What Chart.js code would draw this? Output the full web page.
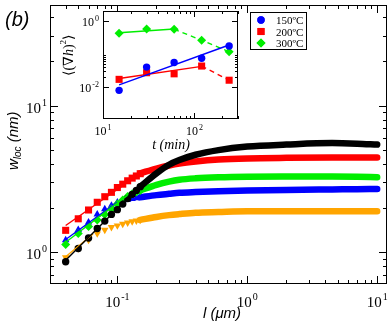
<!DOCTYPE html>
<html>
<head>
<meta charset="utf-8">
<script src="https://cdn.jsdelivr.net/npm/chart.js@4.4.0/dist/chart.umd.min.js"></script>
<style>
  html, body { margin: 0; padding: 0; background: #fff; }
  #wrap { position: relative; width: 392px; height: 326px; }
  #wrap canvas { position: absolute; left: 0; top: 0; }
</style>
</head>
<body>
<div id="wrap">
  <canvas id="mainChart" width="392" height="326"></canvas>
  <canvas id="insetChart" width="392" height="326"></canvas>
</div>
<script>
// ---- main panel: w_loc(l) ----
// separated markers at small l (um)
const lSparse = [0.04, 0.05, 0.06, 0.07, 0.08, 0.09, 0.10, 0.11, 0.12, 0.13, 0.14, 0.15];
const wBlackSparse  = [0.86, 1.06, 1.25, 1.45, 1.63, 1.81, 1.95, 2.13, 2.32, 2.48, 2.64, 2.80];
const wRedSparse    = [1.41, 1.69, 1.94, 2.19, 2.39, 2.56, 2.76, 2.91, 3.07, 3.20, 3.31, 3.43];
const wGreenSparse  = [1.13, 1.34, 1.50, 1.66, 1.81, 1.97, 2.13, 2.27, 2.40, 2.50, 2.57, 2.64];
const wBlueSparse   = [1.21, 1.42, 1.60, 1.81, 1.97, 2.08, 2.19, 2.24, 2.28, 2.31, 2.34, 2.37];
const wOrangeSparse = [0.92, 1.06, 1.21, 1.34, 1.42, 1.48, 1.52, 1.56, 1.59, 1.62, 1.64, 1.66];

// dense part, markers overlap into a thick band
const lBand = [0.15, 0.2, 0.25, 0.3, 0.4, 0.6, 1, 2, 4.5, 7, 10];
const wBlackBand  = [2.80, 3.45, 3.95, 4.25, 4.62, 4.97, 5.25, 5.42, 5.55, 5.50, 5.42];
const wRedBand    = [3.45, 3.72, 3.90, 4.02, 4.15, 4.28, 4.36, 4.40, 4.42, 4.42, 4.42];
const wGreenBand  = [2.64, 2.88, 3.03, 3.12, 3.19, 3.24, 3.27, 3.28, 3.28, 3.27, 3.25];
const wBlueBand   = [2.37, 2.45, 2.50, 2.54, 2.57, 2.60, 2.63, 2.66, 2.68, 2.69, 2.70];
const wOrangeBand = [1.66, 1.74, 1.79, 1.82, 1.86, 1.88, 1.90, 1.90, 1.90, 1.90, 1.90];

// power-law fits at small l
const fitBlackL = [0.04, 0.13],  fitBlackW = [0.88, 2.50];
const fitRedL = [0.04, 0.16],    fitRedW = [1.52, 3.58];
const fitGreenL = [0.04, 0.12],  fitGreenW = [1.17, 2.45];
const fitBlueL = [0.04, 0.10],   fitBlueW = [1.22, 2.20];
const fitOrangeL = [0.04, 0.065], fitOrangeW = [0.93, 1.33];

const mainXMajor = [0.1, 1, 10];
const mainXExp = ['-1', '0', '1'];
const mainYMajor = [1, 10];
const mainYExp = ['0', '1'];

// ---- inset: <(grad h)^2> vs t ----
const tInset = [15, 30, 60, 120, 240];
const grad150 = [0.0079, 0.040, 0.055, 0.074, 0.175];
const grad200 = [0.017, 0.027, 0.025, 0.043, 0.016];
const grad300 = [0.42, 0.57, 0.56, 0.26, 0.117];
const fit150T = [15, 240], fit150 = [0.0115, 0.187];
const fit200T = [15, 120], fit200 = [0.018, 0.042];
const fit300T = [15, 60],  fit300 = [0.44, 0.57];

const insetXMajor = [10, 100];
const insetXExp = ['1', '2'];
const insetYMajor = [0.01, 1];
const insetYExp = ['-2', '0'];
const legendLabels = ['150ºC', '200ºC', '300ºC'];

const BLACK = '#000000', RED = '#ff0000', GREEN = '#00ee00', BLUE = '#0000ff', ORANGE = '#ffa500';
const SERIF = "'Liberation Serif', 'DejaVu Serif', serif";
const SANS = "'Liberation Sans', Arial, sans-serif";

function pts(xs, ys) {
    return xs.map((x, i) => ({ x: x, y: ys[i] }));
}

function markers(xs, ys, color, style, r, order, rot) {
    return {
        data: pts(xs, ys), showLine: false, order: order,
        pointStyle: style, pointRadius: r, pointRotation: rot || 0,
        pointBackgroundColor: color, pointBorderColor: color, pointBorderWidth: 0
    };
}

function band(xs, ys, color, order) {
    return {
        data: pts(xs, ys), showLine: true, pointRadius: 0, order: order,
        borderColor: color, borderWidth: 6.5, borderCapStyle: 'round',
        cubicInterpolationMode: 'monotone'
    };
}

function line(xs, ys, color, order, dash) {
    return {
        data: pts(xs, ys), showLine: true, pointRadius: 0, order: order,
        borderColor: color, borderWidth: 1.4, borderDash: dash || []
    };
}

// minor/major tick values for a log range
function logTicks(min, max) {
    const out = [];
    for (let e = Math.floor(Math.log10(min)); e <= Math.ceil(Math.log10(max)); e++) {
        for (let m = 1; m <= 9; m++) {
            const v = m * Math.pow(10, e);
            if (v >= min * 0.999 && v <= max * 1.001) out.push({ v: v, major: m === 1 });
        }
    }
    return out;
}

function drawPower(ctx, exp, x, y, size, align) {
    const supSize = Math.round(size * 0.66);
    ctx.font = size + 'px ' + SERIF;
    const wb = ctx.measureText('10').width;
    ctx.font = supSize + 'px ' + SERIF;
    const ws = ctx.measureText(exp).width;
    const total = wb + ws + 1;
    const x0 = align === 'center' ? x - total / 2 : x - total;
    ctx.textAlign = 'left';
    ctx.textBaseline = 'alphabetic';
    ctx.font = size + 'px ' + SERIF;
    ctx.fillText('10', x0, y);
    ctx.font = supSize + 'px ' + SERIF;
    ctx.fillText(exp, x0 + wb + 1, y - size * 0.45);
}

function drawFrame(chart, xTicks, yTicks, majLen, minLen) {
    const ctx = chart.ctx, a = chart.chartArea;
    const xs = chart.scales.x, ys = chart.scales.y;
    ctx.save();
    ctx.strokeStyle = '#000';
    ctx.lineWidth = 1;
    ctx.strokeRect(Math.round(a.left) + 0.5, Math.round(a.top) + 0.5,
        Math.round(a.width) - 1, Math.round(a.height) - 1);
    ctx.beginPath();
    xTicks.forEach(t => {
        const px = Math.round(xs.getPixelForValue(t.v)) + 0.5;
        const len = t.major ? majLen : minLen;
        ctx.moveTo(px, a.bottom); ctx.lineTo(px, a.bottom - len);
        ctx.moveTo(px, a.top); ctx.lineTo(px, a.top + len);
    });
    yTicks.forEach(t => {
        const py = Math.round(ys.getPixelForValue(t.v)) + 0.5;
        const len = t.major ? majLen : minLen;
        ctx.moveTo(a.left, py); ctx.lineTo(a.left + len, py);
        ctx.moveTo(a.right, py); ctx.lineTo(a.right - len, py);
    });
    ctx.stroke();
    ctx.restore();
}

const mainPlugin = {
    id: 'mainDecor',
    beforeDraw(chart) {
        const ctx = chart.ctx;
        ctx.save();
        ctx.fillStyle = '#fff';
        ctx.fillRect(0, 0, chart.width, chart.height);
        ctx.restore();
    },
    afterDraw(chart) {
        const ctx = chart.ctx;
        const xs = chart.scales.x, ys = chart.scales.y;
        drawFrame(chart, logTicks(xs.min, xs.max), logTicks(ys.min, ys.max), 8, 4);
        ctx.save();
        ctx.fillStyle = '#000';
        mainXMajor.forEach((v, i) => drawPower(ctx, mainXExp[i], xs.getPixelForValue(v), 307, 15, 'center'));
        mainYMajor.forEach((v, i) => drawPower(ctx, mainYExp[i], 47, ys.getPixelForValue(v) + 7, 15, 'right'));

        // x title
        ctx.font = 'italic 15px ' + SANS;
        ctx.textAlign = 'center';
        ctx.fillText('l (μm)', 222, 318);

        // y title with subscript
        ctx.save();
        ctx.translate(17.5, 170);
        ctx.rotate(-Math.PI / 2);
        ctx.textAlign = 'left';
        ctx.font = 'italic 15px ' + SANS;
        ctx.fillText('w', 0, 0);
        let off = ctx.measureText('w').width;
        ctx.font = 'italic 10px ' + SANS;
        ctx.fillText('loc', off, 3);
        off += ctx.measureText('loc').width;
        ctx.font = 'italic 15px ' + SANS;
        ctx.fillText(' (nm)', off, 0);
        ctx.restore();

        // panel tag
        ctx.font = 'italic 20px ' + SANS;
        ctx.textAlign = 'left';
        ctx.fillText('(b)', 5, 26);
        ctx.restore();
    }
};

new Chart(document.getElementById('mainChart'), {
    type: 'scatter',
    data: {
        datasets: [
            line(fitBlackL, fitBlackW, BLACK, 0),
            line(fitRedL, fitRedW, RED, 0),
            line(fitGreenL, fitGreenW, GREEN, 0),
            line(fitBlueL, fitBlueW, BLUE, 0),
            line(fitOrangeL, fitOrangeW, ORANGE, 0),
            markers(lSparse, wBlackSparse, BLACK, 'circle', 3.7, 1),
            band(lBand, wBlackBand, BLACK, 1),
            markers(lSparse, wRedSparse, RED, 'rect', 5, 2),
            band(lBand, wRedBand, RED, 2),
            markers(lSparse, wGreenSparse, GREEN, 'rectRot', 4.5, 3),
            band(lBand, wGreenBand, GREEN, 3),
            markers(lSparse, wBlueSparse, BLUE, 'triangle', 4.3, 4),
            band(lBand, wBlueBand, BLUE, 4),
            markers(lSparse, wOrangeSparse, ORANGE, 'triangle', 4.3, 5, 180),
            band(lBand, wOrangeBand, ORANGE, 5)
        ]
    },
    options: {
        responsive: false,
        animation: false,
        events: [],
        layout: { padding: { top: 3, right: 2, left: 0, bottom: 0 } },
        plugins: { legend: { display: false }, tooltip: { enabled: false } },
        scales: {
            x: {
                type: 'logarithmic', min: 0.0303, max: 11.9, bounds: 'data',
                grid: { display: false }, border: { display: false }, ticks: { display: false },
                afterFit: s => { s.height = 42; }
            },
            y: {
                type: 'logarithmic', min: 0.607, max: 48.5, bounds: 'data',
                grid: { display: false }, border: { display: false }, ticks: { display: false },
                afterFit: s => { s.width = 50; }
            }
        }
    },
    plugins: [mainPlugin]
});

const insetPlugin = {
    id: 'insetDecor',
    beforeDatasetsDraw(chart) {
        const ctx = chart.ctx, a = chart.chartArea;
        ctx.save();
        ctx.fillStyle = '#fff';
        ctx.fillRect(a.left, a.top, a.width, a.height);
        ctx.restore();
    },
    afterDraw(chart) {
        const ctx = chart.ctx;
        const xs = chart.scales.x, ys = chart.scales.y;
        const yTicks = logTicks(0.01, 0.09).concat([{ v: 1, major: true }]);
        drawFrame(chart, logTicks(xs.min, xs.max), yTicks, 6, 3);
        ctx.save();
        ctx.fillStyle = '#000';
        insetXMajor.forEach((v, i) => drawPower(ctx, insetXExp[i], xs.getPixelForValue(v), 135, 12, 'center'));
        insetYMajor.forEach((v, i) => drawPower(ctx, insetYExp[i], 99, ys.getPixelForValue(v) + 5, 12, 'right'));

        ctx.font = 'italic 14px ' + SERIF;
        ctx.textAlign = 'center';
        ctx.fillText('t (min)', 171, 149);

        // <(grad h)^2>
        ctx.save();
        ctx.translate(73, 76);
        ctx.rotate(-Math.PI / 2);
        ctx.textAlign = 'left';
        const parts = [
            ['⟨(∇', '14px ' + SERIF, 0],
            ['h', 'italic 14px ' + SERIF, 0],
            [')', '14px ' + SERIF, 0],
            ['2', '9px ' + SERIF, -7],
            ['⟩', '14px ' + SERIF, 0]
        ];
        let off = 0;
        parts.forEach(p => {
            ctx.font = p[1];
            ctx.fillText(p[0], off, p[2]);
            off += ctx.measureText(p[0]).width;
        });
        ctx.restore();

        // legend
        ctx.strokeStyle = '#000';
        ctx.lineWidth = 1;
        ctx.strokeRect(250.5, 12.5, 56, 37);
        const styles = [['circle', BLUE, 3.7], ['rect', RED, 5], ['rectRot', GREEN, 4.5]];
        const rows = [20, 31.5, 43];
        ctx.font = '11px ' + SERIF;
        ctx.textAlign = 'left';
        legendLabels.forEach((lab, i) => {
            ctx.fillStyle = styles[i][1];
            Chart.helpers.drawPoint(ctx, { pointStyle: styles[i][0], radius: styles[i][2], rotation: 0, borderWidth: 0 }, 261, rows[i]);
            ctx.fill();
            ctx.fillStyle = '#000';
            ctx.fillText(lab, 276, rows[i] + 4);
        });
        ctx.restore();
    }
};

new Chart(document.getElementById('insetChart'), {
    type: 'scatter',
    data: {
        datasets: [
            line(fit150T, fit150, BLUE, 0),
            line(fit200T, fit200, RED, 0),
            line(fit300T, fit300, GREEN, 0),
            line(tInset.slice(3), grad200.slice(3), RED, 0, [5, 4]),
            line(tInset.slice(2), grad300.slice(2), GREEN, 0, [5, 4]),
            markers(tInset, grad150, BLUE, 'circle', 3.7, 1),
            markers(tInset, grad200, RED, 'rect', 5, 1),
            markers(tInset, grad300, GREEN, 'rectRot', 4.5, 1)
        ]
    },
    options: {
        responsive: false,
        animation: false,
        events: [],
        layout: { padding: { top: 11, right: 154, left: 103, bottom: 207 } },
        plugins: { legend: { display: false }, tooltip: { enabled: false } },
        scales: {
            x: {
                type: 'logarithmic', min: 10, max: 300, bounds: 'data',
                grid: { display: false }, border: { display: false }, ticks: { display: false },
                afterFit: s => { s.height = 0; }
            },
            y: {
                type: 'logarithmic', min: 0.00107, max: 2.0, bounds: 'data',
                grid: { display: false }, border: { display: false }, ticks: { display: false },
                afterFit: s => { s.width = 0; }
            }
        }
    },
    plugins: [insetPlugin]
});
</script>
</body>
</html>
